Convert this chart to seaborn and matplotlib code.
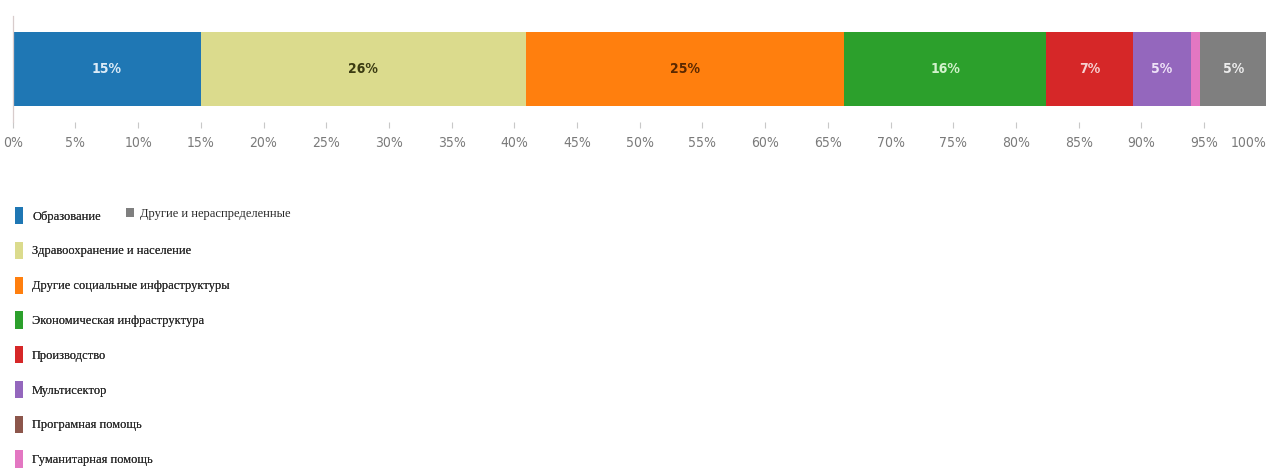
import matplotlib
matplotlib.use("Agg")
import matplotlib.pyplot as plt
from matplotlib import font_manager as fm
from matplotlib.patches import Patch
import numpy as np
import pandas as pd
import seaborn as sns

# ---- data ----
categories = [
    "Образование",
    "Здравоохранение и население",
    "Другие социальные инфраструктуры",
    "Экономическая инфраструктура",
    "Производство",
    "Мультисектор",
    "Програмная помощь",
    "Гуманитарная помощь",
    "Другие и нераспределенные",
]
shares = [15.0, 25.9, 25.4, 16.1, 6.9, 4.7, 0.0, 0.7, 5.3]
tick_values = list(range(0, 101, 5))
tick_labels = [f"{v}%" for v in tick_values]

# ---- styles ----
colors = ["#1f77b4", "#dbdb8d", "#ff7f0e", "#2ca02c", "#d62728",
          "#9467bd", "#8c564b", "#e377c2", "#7f7f7f"]
text_colors = ["#dcebf7", "#3b3b12", "#5a2800", "#d2f2cc", "#f7d0d0",
               "#eee2f7", "#ffffff", "#ffffff", "#ececec"]

sns.set_theme(style="white")
plt.rcParams["font.family"] = ["DejaVu Sans"]


def find_font(fname_part):
    for p in fm.findSystemFonts():
        if p.endswith(fname_part):
            return p
    return None


cond = find_font("DejaVuSansCondensed.ttf")
cond_b = find_font("DejaVuSansCondensed-Bold.ttf")
tick_fp = fm.FontProperties(fname=cond, size=10) if cond else fm.FontProperties(family="DejaVu Sans", size=9.5)
lab_fp = fm.FontProperties(fname=cond_b, size=10) if cond_b else fm.FontProperties(family="DejaVu Sans", weight="bold", size=9.5)

W, H = 1266, 470
fig = plt.figure(figsize=(W / 100, H / 100), dpi=100)
ax = fig.add_axes([12.7 / W, 1 - 122 / H, 1254 / W, 106 / H])

df = pd.DataFrame({"cat": categories, "share": shares})
df["cum"] = df["share"].cumsum()

# stacked horizontal bar: draw cumulative bars from last to first
for i in range(len(df) - 1, -1, -1):
    sub = pd.DataFrame({"cum": [df["cum"].iloc[i]], "row": [""]})
    sns.barplot(data=sub, x="cum", y="row", orient="h", color=colors[i],
                saturation=1, width=0.70, linewidth=0, ax=ax, errorbar=None)

for i, row in df.iterrows():
    if row["share"] >= 3:
        ax.text(row["cum"] - row["share"] / 2, 0, f"{round(row['share'])}%",
                ha="center", va="center", color=text_colors[i], fontproperties=lab_fp)

ax.set_xlim(0, 100)
ax.set_ylim(0.5, -0.5)
ax.set_xlabel("")
ax.set_ylabel("")
ax.set_yticks([])
ax.set_xticks(tick_values)
ax.set_xticklabels(tick_labels, color="#7a7a7a", fontproperties=tick_fp)
ax.get_xticklabels()[-1].set_ha("right")
ax.tick_params(axis="x", length=4, width=0.8, color="#c8c8c8", pad=6, bottom=True)
for s in ["top", "right", "bottom"]:
    ax.spines[s].set_visible(False)
ax.spines["left"].set_color("#d8cccc")
ax.spines["left"].set_linewidth(0.9)

# legends
handles = [Patch(facecolor=c, edgecolor="none") for c in colors]
leg1 = fig.legend(handles[:8], categories[:8], loc="upper left",
                  bbox_to_anchor=(15 / W, 1 - 207 / H), bbox_transform=fig.transFigure,
                  frameon=False, borderpad=0, borderaxespad=0,
                  handlelength=0.65, handleheight=1.75, labelspacing=1.4,
                  handletextpad=0.72, prop={"family": "Liberation Serif", "size": 9})
for t in leg1.get_texts():
    t.set_color("#2a2a2a")
leg2 = fig.legend(handles[8:], categories[8:], loc="upper left",
                  bbox_to_anchor=(126 / W, 1 - 208 / H), bbox_transform=fig.transFigure,
                  frameon=False, borderpad=0, borderaxespad=0,
                  handlelength=0.65, handleheight=0.75, handletextpad=0.5,
                  prop={"family": "Liberation Serif", "size": 9})
for t in leg2.get_texts():
    t.set_color("#2a2a2a")
fig.add_artist(leg1)

fig.savefig("out.png", dpi=100)
